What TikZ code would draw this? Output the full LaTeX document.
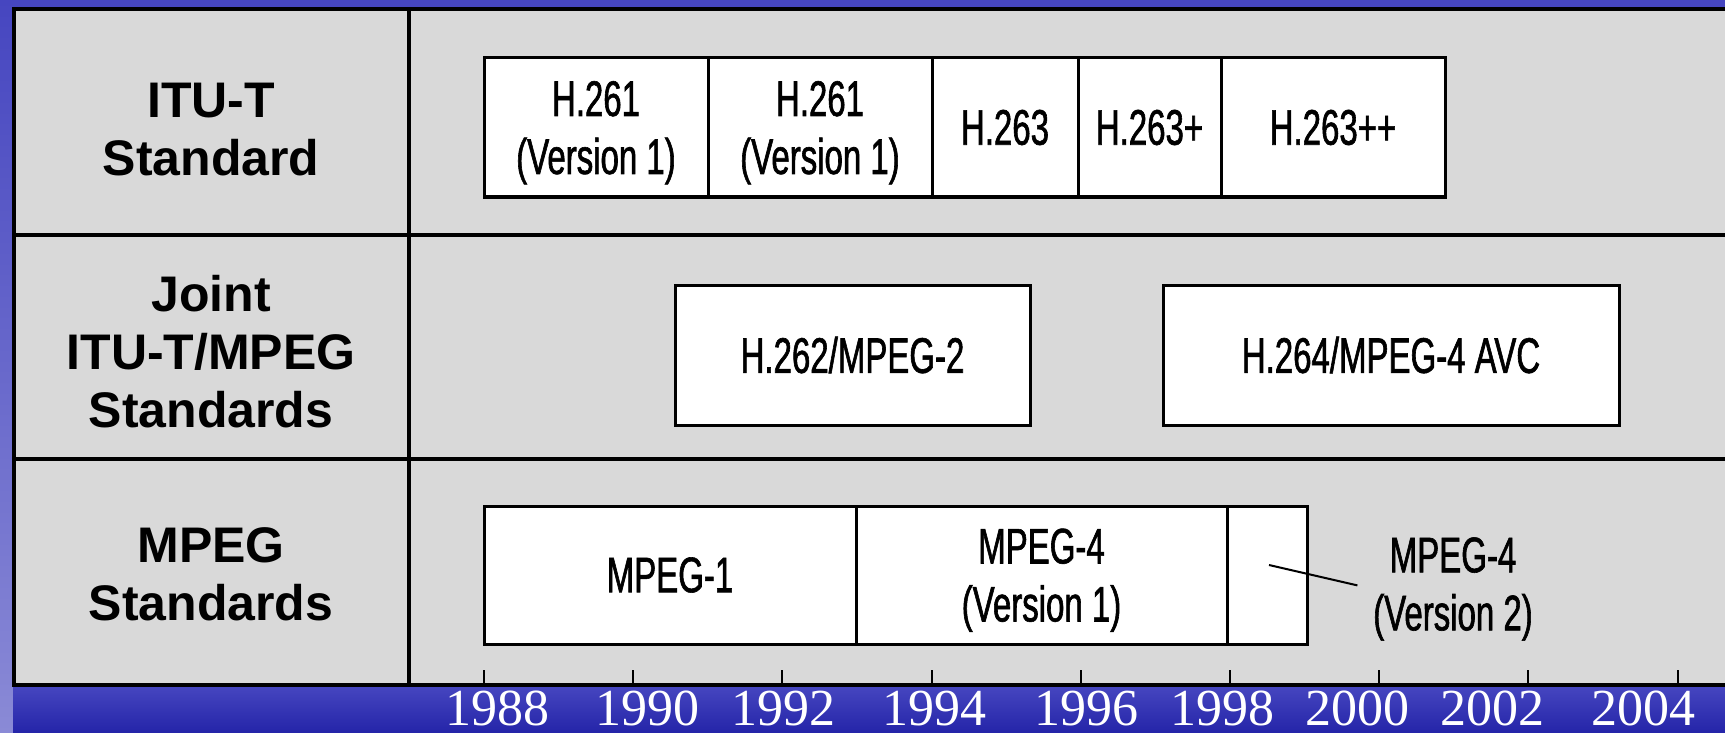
\documentclass[tikz,border=0pt]{standalone}
\usepackage{fontspec}
\setmainfont{Liberation Serif}
\newfontfamily\headfont{Liberation Sans}
\newfontfamily\narrowfont{Liberation Sans}[FakeStretch=0.66,FakeBold=1.2]

\definecolor{slideblue}{HTML}{2B2BAD}
\definecolor{slidetop}{HTML}{4646C0}
\definecolor{slidedark}{HTML}{2424A8}
\definecolor{slidepale}{HTML}{8A8AD6}
\definecolor{panelgray}{HTML}{D9D9D9}

\tikzset{
    rowlabel/.style={align=center,inner sep=0pt,font=\headfont\bfseries\fontsize{50}{58}\selectfont},
    stdbox/.style={draw,line width=3pt,fill=white,align=center,inner sep=0pt,outer sep=0pt,
        font=\narrowfont\fontsize{50}{58}\selectfont},
    twoline/.style={text depth=0pt},
    notelabel/.style={align=center,inner sep=0pt,font=\narrowfont\fontsize{50}{58}\selectfont},
    yearlabel/.style={text=white,anchor=base,inner sep=0pt,font=\fontsize{52}{60}\selectfont},
}

\begin{document}
\begin{tikzpicture}[x=1pt,y=-1pt]
    \useasboundingbox (0,0) rectangle (1725,733);
    \clip (0,0) rectangle (1725,733);
    % slide background
    \fill[slideblue] (0,0) rectangle (1725,733);
    \fill[slidetop] (0,0) rectangle (1725,9);
    \shade[top color=slidetop,middle color=slidedark,bottom color=slidepale] (0,0) rectangle (13,733);
    \shade[top color=slidetop,bottom color=slidedark] (13,686) rectangle (1725,733);

    % table
    \draw[line width=4pt,fill=panelgray] (14,9) rectangle (1745,685);
    \draw[line width=3.5pt] (409,9) -- (409,685);
    \draw[line width=3.5pt] (14,235) -- (1725,235);
    \draw[line width=3.5pt] (14,459) -- (1725,459);

    % time axis
    \foreach \yr in {0,2,...,16}
        \draw[line width=2pt] ({484+74.6*\yr},670) -- ++(0,15);
    \foreach \yr/\xpos in {1988/497,1990/647,1992/783,1994/934,1996/1086,1998/1222,2000/1357,2002/1492,2004/1643}
        \node[yearlabel] (y\yr) at (\xpos,725) {\yr};

    % rows
    \node[rowlabel] (itu) at (211,130) {ITU-T\\Standard};
    \node[rowlabel] (joint) at (211,352) {Joint\\ITU-T/MPEG\\Standards};
    \node[rowlabel] (mpeg) at (211,574) {MPEG\\Standards};

    \node[stdbox,twoline,minimum width=224pt,minimum height=139pt] (h261a) at (596,127.5) {H.261\\(Version 1)};
    \node[stdbox,twoline,minimum width=224pt,minimum height=139pt] (h261b) at (820,127.5) {H.261\\(Version 1)};
    \node[stdbox,minimum width=146pt,minimum height=139pt] (h263) at (1005,127.5) {H.263};
    \node[stdbox,minimum width=143pt,minimum height=139pt] (h263p) at (1149.5,127.5) {H.263+};
    \node[stdbox,minimum width=224pt,minimum height=139pt] (h263pp) at (1333,127.5) {H.263++};

    \node[stdbox,minimum width=355pt,minimum height=140pt] (h262) at (852.5,355) {H.262/MPEG-2};
    \node[stdbox,minimum width=456pt,minimum height=140pt] (h264) at (1391,355) {H.264/MPEG-4 AVC};

    \node[stdbox,minimum width=372pt,minimum height=138pt] (mpeg1) at (670,575) {MPEG-1};
    \node[stdbox,twoline,minimum width=371pt,minimum height=138pt] (mpeg4v1) at (1041.5,575) {MPEG-4\\(Version 1)};
    \node[stdbox,minimum width=80pt,minimum height=138pt] (mpeg4v2) at (1267,575) {};
    \node[notelabel] (v2label) at (1453,589) {MPEG-4\\(Version 2)};
    \coordinate (v2tip) at (1269,565);
    \draw[line width=2pt,shorten >=16pt] (v2tip) -- (v2label.west);
\end{tikzpicture}
\end{document}
